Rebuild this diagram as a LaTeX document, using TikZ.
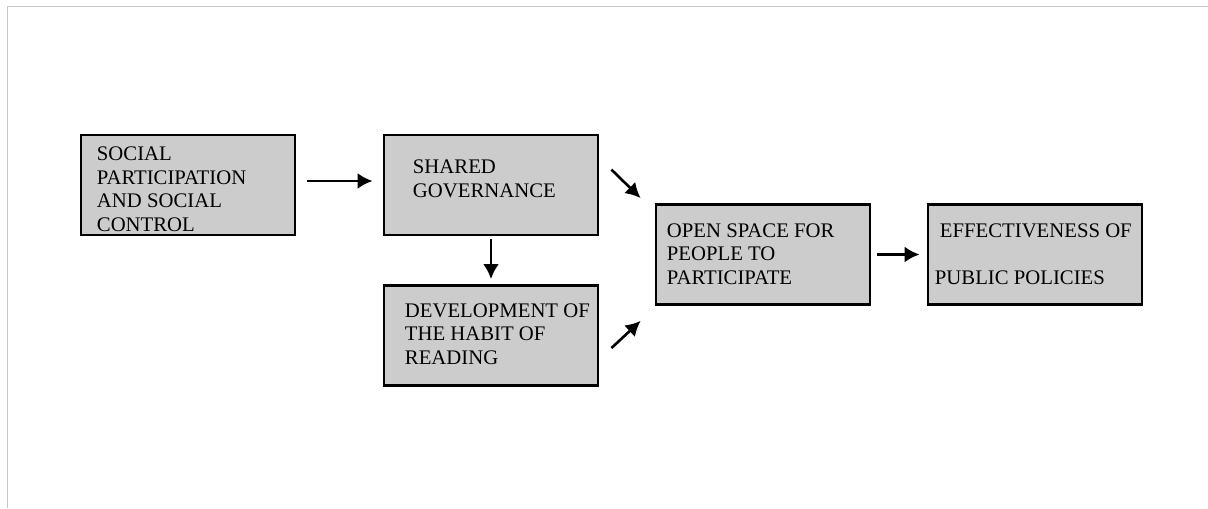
\documentclass[tikz,border=0pt]{standalone}
\usepackage{fontspec}
\setmainfont{Liberation Serif}
\usetikzlibrary{arrows.meta, calc}

\begin{document}
\begin{tikzpicture}[
  stage/.style={draw=black, line width=1.6pt, fill=gray!40, minimum width=4.28cm, minimum height=2.0cm, inner sep=0pt},
  stagetext/.style={anchor=north west, inner sep=0pt, align=left, font=\fontsize{11.8}{13.4}\selectfont},
  flow/.style={-{Latex[length=8.5pt,width=9pt]}, line width=1.5pt}
]
  % Page frame
  \useasboundingbox (0,0) rectangle (24.16,10.16);
  \draw[gray!45, line width=0.8pt] (0.15,0) -- (0.15,10.03) -- (24.16,10.03);

  % Draw the boxes
  \node[stage] (social) at (3.76,6.46) {};
  \node[stage] (shared) at (9.82,6.46) {};
  \node[stage] (reading) at (9.82,3.45) {};
  \node[stage] (space) at (15.26,5.07) {};
  \node[stage] (effect) at (20.70,5.07) {};

  % Texts inside the boxes
  \node[stagetext] (socialtext) at ($(social.north west)+(0.34,-0.26)$) {SOCIAL\\PARTICIPATION\\AND SOCIAL\\CONTROL};
  \node[stagetext] (sharedtext) at ($(shared.north west)+(0.60,-0.52)$) {SHARED\\GOVERNANCE};
  \node[stagetext] (readingtext) at ($(reading.north west)+(0.44,-0.38)$) {DEVELOPMENT OF\\THE HABIT OF\\READING};
  \node[stagetext] (spacetext) at ($(space.north west)+(0.24,-0.40)$) {OPEN SPACE FOR\\PEOPLE TO\\PARTICIPATE};
  \node[stagetext] (effecttext) at ($(effect.north west)+(0.16,-0.40)$) {\hspace*{0.1cm}EFFECTIVENESS OF\\[13.8pt]PUBLIC POLICIES};

  % Arrows
  \draw[flow, shorten <=0.22cm, shorten >=0.2cm] ([yshift=0.08cm]social.east) -- ([yshift=0.08cm]shared.west);
  \draw[flow, shorten <=0.06cm, shorten >=0.1cm] (shared) -- (reading);
  \draw[flow] ($(shared.north east)+(0.24,-0.72)$) -- ($(space.north west)+(-0.28,0.10)$);
  \draw[flow] ($(reading.north east)+(0.24,-1.28)$) -- ($(space.south west)+(-0.28,-0.30)$);
  \draw[flow, shorten <=0.12cm, shorten >=0.14cm] (space) -- (effect);
\end{tikzpicture}
\end{document}
